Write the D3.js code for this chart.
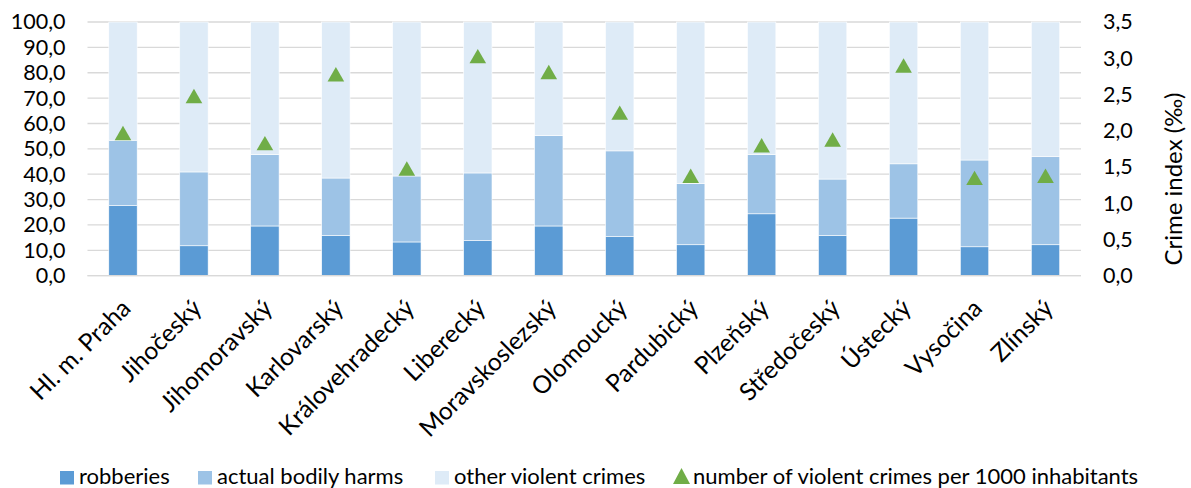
<!DOCTYPE html>
<html><head><meta charset="utf-8">
<script src="https://cdn.jsdelivr.net/npm/d3@7"></script>
<style>body{margin:0;background:#fff}svg{display:block;font-family:Lato,"Open Sans",sans-serif}</style>
</head><body><svg id="c" width="1191" height="488"></svg>
<script>
const categories = ["Hl. m. Praha","Jihočeský","Jihomoravský","Karlovarský","Královehradecký","Liberecký","Moravskoslezský","Olomoucký","Pardubický","Plzeňský","Středočeský","Ústecký","Vysočina","Zlínský"];
const robberies = [27.6,11.8,19.6,15.8,13.3,13.8,19.6,15.4,12.2,24.4,15.8,22.7,11.4,12.2];
const bodilyHarms = [25.8,29.1,28.1,22.7,26.0,26.7,35.6,33.8,24.2,23.3,22.3,21.4,34.2,34.7];
const otherViolent = [46.6,59.1,52.3,61.5,60.7,59.5,44.8,50.8,63.6,52.3,61.9,55.9,54.4,53.1];
const crimeIndex = [1.95,2.46,1.81,2.76,1.46,3.01,2.79,2.23,1.36,1.78,1.86,2.88,1.33,1.36];
const leftTicks = [0,10,20,30,40,50,60,70,80,90,100];
const rightTicks = [0,0.5,1,1.5,2,2.5,3,3.5];
const seriesNames = ["robberies","actual bodily harms","other violent crimes"];
const seriesColors = ["#5B9BD5","#9DC3E6","#DEEBF7"];
const markerColor = "#70AD47";
const markerName = "number of violent crimes per 1000 inhabitants";

const svg = d3.select("#c");
const L = 87.5, R = 1081, T = 22, B = 275.7;
const x = d3.scaleBand().domain(categories).range([L, R]);
const y = d3.scaleLinear().domain([0,100]).range([B, T]);
const y2 = d3.scaleLinear().domain([0,3.5]).range([B, T]);
const fmt1 = v => d3.format(".1f")(v).replace(".", ",");
const FS = 21.5;

// gridlines
svg.append("g").selectAll("line").data(leftTicks).join("line")
  .attr("x1", L).attr("x2", R).attr("y1", d => y(d)).attr("y2", d => y(d))
  .attr("stroke", "#D9D9D9").attr("stroke-width", 1.3);

// stacked bars
const rows = categories.map((c,i) => ({cat:c, s0:robberies[i], s1:bodilyHarms[i], s2:otherViolent[i]}));
const stack = d3.stack().keys(["s0","s1","s2"])(rows);
const bw = x.bandwidth() * 0.4;
svg.append("g").selectAll("g").data(stack).join("g")
  .attr("fill", (d,i) => seriesColors[i])
  .selectAll("rect").data(d => d).join("rect")
  .attr("x", d => x(d.data.cat) + (x.bandwidth() - bw)/2)
  .attr("width", bw)
  .attr("y", d => y(d[1]))
  .attr("height", d => y(d[0]) - y(d[1]))
  .attr("stroke", "#fff").attr("stroke-width", 0.6);

// markers
const tri = d3.symbol().type(d3.symbolTriangle).size(120);
svg.append("g").selectAll("path").data(crimeIndex).join("path")
  .attr("d", tri)
  .attr("transform", (d,i) => `translate(${x(categories[i]) + x.bandwidth()/2},${y2(d)+1})`)
  .attr("fill", markerColor);

// left axis
const la = svg.append("g").attr("transform", `translate(${L},0)`)
  .call(d3.axisLeft(y).tickValues(leftTicks).tickFormat(fmt1).tickSize(0).tickPadding(22));
la.select(".domain").remove();
la.selectAll("text").attr("font-size", FS).attr("fill", "#000").attr("font-family", "Lato");

// right axis
const ra = svg.append("g").attr("transform", `translate(${R},0)`)
  .call(d3.axisRight(y2).tickValues(rightTicks).tickFormat(fmt1).tickSize(0).tickPadding(22));
ra.select(".domain").remove();
ra.selectAll("text").attr("font-size", FS).attr("fill", "#000").attr("font-family", "Lato");

svg.append("text").attr("transform", `translate(1182,179) rotate(-90)`)
  .attr("text-anchor","middle").attr("font-size", 24).attr("fill","#000").text("Crime index (‰)");

// bottom axis line
svg.append("line").attr("x1", L).attr("x2", R).attr("y1", B).attr("y2", B).attr("stroke", "#D9D9D9").attr("stroke-width", 1.3);

// category labels
svg.append("g").selectAll("text").data(categories).join("text")
  .attr("transform", d => `translate(${x(d) + x.bandwidth()/2 - 3},${B + 22}) rotate(-45)`)
  .attr("text-anchor", "end").attr("dy", "0.7em")
  .attr("font-size", 24.5).attr("fill", "#000").text(d => d);

// legend
const lg = svg.append("g");
const items = [
  {name: seriesNames[0], color: seriesColors[0], x: 60, type: "sq"},
  {name: seriesNames[1], color: seriesColors[1], x: 198, type: "sq"},
  {name: seriesNames[2], color: seriesColors[2], x: 435, type: "sq"},
  {name: markerName, color: markerColor, x: 673, type: "tri"}
];
const base = 484;
items.forEach(it => {
  if (it.type === "sq") {
    lg.append("rect").attr("x", it.x).attr("y", base - 13).attr("width", 14).attr("height", 13.5).attr("fill", it.color);
  } else {
    lg.append("path").attr("d", "M0,-8 L8.5,8 L-8.5,8 Z").attr("transform", `translate(${it.x+8.5},${base-8})`).attr("fill", it.color);
  }
  lg.append("text").attr("x", it.x + (it.type === "sq" ? 19 : 20)).attr("y", base)
    .attr("font-size", 22).attr("fill", "#000").text(it.name);
});
</script></body></html>
